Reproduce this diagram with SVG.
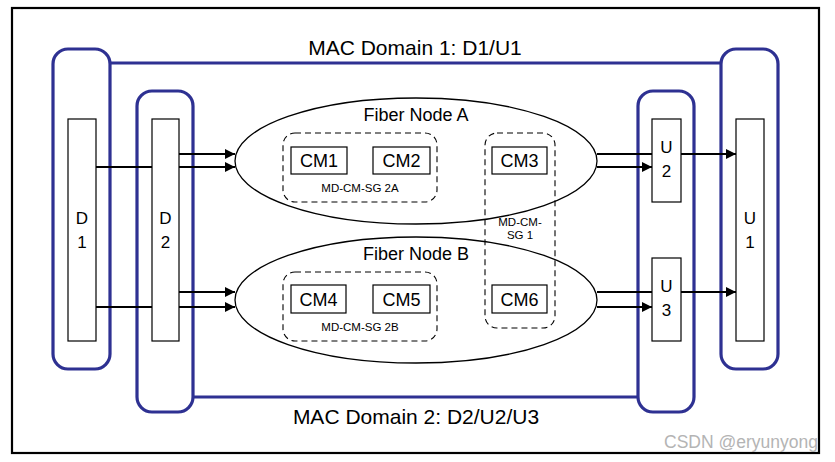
<svg xmlns="http://www.w3.org/2000/svg" width="835" height="462" viewBox="0 0 835 462">
<style>
text{font-family:"Liberation Sans",Arial,sans-serif;fill:#000}
.blue{fill:none;stroke:#2e3192;stroke-width:3.2}
.box{fill:#fff;stroke:#000;stroke-width:1.2}
.dash{fill:none;stroke:#000;stroke-width:1.1;stroke-dasharray:6,4}
.ln{fill:none;stroke:#000;stroke-width:2}
.big{font-size:21px}
.mid{font-size:18px}
.lbl{font-size:17px}
.sm{font-size:11.5px}
</style>
<defs>
<marker id="ah" viewBox="0 0 10 10" refX="10" refY="5" markerWidth="10" markerHeight="10" markerUnits="userSpaceOnUse" orient="auto">
<path d="M0,0 L10,5 L0,10 z" fill="#000"/>
</marker>
</defs>
<rect x="0" y="0" width="835" height="462" fill="#fff"/>
<rect x="12" y="8" width="807" height="445" fill="#fff" stroke="#000" stroke-width="2.2"/>

<g id="domains">
<path class="blue" d="M110,63 H721"/>
<path class="blue" d="M193,397 H638"/>
<text class="big" x="415" y="55" text-anchor="middle">MAC Domain 1: D1/U1</text>
<text class="big" x="416" y="424" text-anchor="middle">MAC Domain 2: D2/U2/U3</text>
</g>

<g id="D1">
<rect class="blue" x="53" y="49" width="57" height="320" rx="15"/>
<rect class="box" x="68" y="119" width="28" height="222"/>
<text class="lbl" x="82" y="224" text-anchor="middle">D</text>
<text class="lbl" x="82" y="248" text-anchor="middle">1</text>
</g>
<g id="D2">
<rect class="blue" x="137" y="91" width="56" height="321" rx="15"/>
<rect class="box" x="152" y="119" width="27" height="222"/>
<text class="lbl" x="165.5" y="224" text-anchor="middle">D</text>
<text class="lbl" x="165.5" y="248" text-anchor="middle">2</text>
</g>
<g id="U1">
<rect class="blue" x="721" y="49" width="57" height="320" rx="15"/>
<rect class="box" x="736" y="119" width="28" height="222"/>
<text class="lbl" x="750" y="224" text-anchor="middle">U</text>
<text class="lbl" x="750" y="248" text-anchor="middle">1</text>
</g>
<g id="U23">
<rect class="blue" x="638" y="91" width="56" height="321" rx="15"/>
</g>
<g id="U2">
<rect class="box" x="652" y="119" width="29" height="83"/>
<text class="lbl" x="666.5" y="153" text-anchor="middle">U</text>
<text class="lbl" x="666.5" y="177" text-anchor="middle">2</text>
</g>
<g id="U3">
<rect class="box" x="652" y="258" width="29" height="83"/>
<text class="lbl" x="666.5" y="292" text-anchor="middle">U</text>
<text class="lbl" x="666.5" y="316" text-anchor="middle">3</text>
</g>

<g id="FiberNodeA">
<ellipse cx="416" cy="161" rx="181" ry="63" fill="#fff" stroke="#000" stroke-width="1.3"/>
<text class="mid" x="416" y="121" text-anchor="middle">Fiber Node A</text>
</g>
<g id="FiberNodeB">
<ellipse cx="416" cy="300" rx="181" ry="63" fill="#fff" stroke="#000" stroke-width="1.3"/>
<text class="mid" x="416" y="260" text-anchor="middle">Fiber Node B</text>
</g>

<g id="SG2A">
<rect class="dash" x="283" y="133" width="154" height="69" rx="12"/>
<text class="sm" x="360" y="192" text-anchor="middle">MD-CM-SG 2A</text>
</g>
<g id="SG2B">
<rect class="dash" x="283" y="272" width="154" height="69" rx="12"/>
<text class="sm" x="360" y="331" text-anchor="middle">MD-CM-SG 2B</text>
</g>
<g id="SG1">
<rect class="dash" x="485" y="133" width="70" height="195" rx="12"/>
<text class="sm" x="520" y="226" text-anchor="middle">MD-CM-</text>
<text class="sm" x="520" y="239" text-anchor="middle">SG 1</text>
</g>

<g id="CM1"><rect class="box" x="291" y="147" width="56" height="27"/><text class="mid" x="319" y="167" text-anchor="middle">CM1</text></g>
<g id="CM2"><rect class="box" x="373" y="147" width="57" height="27"/><text class="mid" x="401.5" y="167" text-anchor="middle">CM2</text></g>
<g id="CM3"><rect class="box" x="492" y="147" width="55" height="27"/><text class="mid" x="519.5" y="167" text-anchor="middle">CM3</text></g>
<g id="CM4"><rect class="box" x="291" y="285" width="55" height="28"/><text class="mid" x="318.5" y="306" text-anchor="middle">CM4</text></g>
<g id="CM5"><rect class="box" x="373" y="285" width="57" height="28"/><text class="mid" x="401.5" y="306" text-anchor="middle">CM5</text></g>
<g id="CM6"><rect class="box" x="492" y="285" width="55" height="28"/><text class="mid" x="519.5" y="306" text-anchor="middle">CM6</text></g>

<g id="connectors">
<path class="ln" d="M179,154 H235" marker-end="url(#ah)"/>
<path class="ln" d="M96,167 H152 M179,167 H235" marker-end="url(#ah)"/>
<path class="ln" d="M179,292 H235" marker-end="url(#ah)"/>
<path class="ln" d="M96,307 H152 M179,307 H235" marker-end="url(#ah)"/>
<path class="ln" d="M597,154 H652"/>
<path class="ln" d="M597,167 H652" marker-end="url(#ah)"/>
<path class="ln" d="M681,154 H736" marker-end="url(#ah)"/>
<path class="ln" d="M597,292 H652"/>
<path class="ln" d="M597,307 H652" marker-end="url(#ah)"/>
<path class="ln" d="M681,292 H736" marker-end="url(#ah)"/>
</g>

<text x="818" y="448" text-anchor="end" style="font-size:17.5px;fill:#b4b4b4">CSDN @eryunyong</text>
</svg>
